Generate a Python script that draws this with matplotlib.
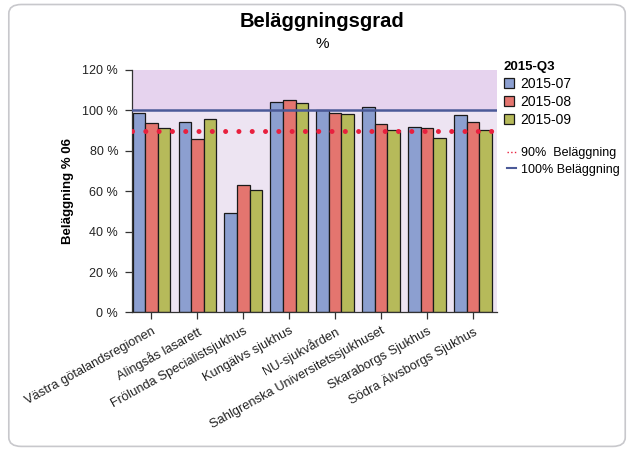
import numpy as np
import matplotlib
matplotlib.use('Agg')
import matplotlib.pyplot as plt
from matplotlib.patches import Patch, FancyBboxPatch
from matplotlib.lines import Line2D

plt.rcParams['font.family'] = ['Liberation Sans', 'DejaVu Sans']

hospitals = [
    'Västra götalandsregionen',
    'Alingsås lasarett',
    'Frölunda Specialistsjukhus',
    'Kungälvs sjukhus',
    'NU-sjukvården',
    'Sahlgrenska Universitetssjukhuset',
    'Skaraborgs Sjukhus',
    'Södra Älvsborgs Sjukhus',
]
months = ['2015-07', '2015-08', '2015-09']
jul = [98.7, 94.1, 49.3, 104.1, 100.3, 101.6, 91.8, 97.5]
aug = [93.9, 86.0, 63.0, 105.3, 98.9, 93.1, 91.4, 94.2]
sep = [91.3, 95.9, 60.8, 103.6, 98.4, 90.5, 86.5, 90.5]
target_90 = 90
target_100 = 100
y_ticks = [0, 20, 40, 60, 80, 100, 120]

COLORS = ['#8c9fd0', '#e4756f', '#b6ba5a']
RED_DOT = '#e8203e'
BLUE_LINE = '#4b5a98'

fig = plt.figure(figsize=(6.29, 4.5), dpi=100)
ax = fig.add_axes([0.21, 0.3056, 0.58, 0.539])

# rounded frame around the whole chart
frame = FancyBboxPatch((0.014, 0.008), 0.98, 0.982, transform=fig.transFigure,
                       boxstyle='round,pad=0,rounding_size=0.02',
                       facecolor='none', edgecolor='#c8c8cc', linewidth=1.2)
fig.patches.append(frame)

ax.set_facecolor('#ede4f2')
ax.axhspan(100, 120, color='#e6d3ee', zorder=0)

x = np.arange(len(hospitals))
w = 0.273
for i, (vals, c) in enumerate(zip([jul, aug, sep], COLORS)):
    ax.bar(x + (i - 1) * w, vals, width=w, color=c, edgecolor='#1a1a1a',
           linewidth=0.9, zorder=2)

ax.axhline(target_100, color=BLUE_LINE, linewidth=1.8, zorder=3)
ax.axhline(target_90, color=RED_DOT, linewidth=3.6, linestyle=(0, (0.01, 2.65)),
           dash_capstyle='round', zorder=4)

ax.set_xlim(-0.42, 7.52)
ax.set_ylim(0, 120)
ax.set_yticks(y_ticks)
ax.set_yticklabels([f'{v} %' for v in y_ticks], fontsize=9, color='#222222')
ax.set_xticks(x)
ax.set_xticklabels(hospitals, rotation=29, ha='right', rotation_mode='anchor',
                   fontsize=9.3, color='#222222')
ax.tick_params(axis='both', direction='out', length=5, width=0.9, color='#333333')
ax.tick_params(axis='x', pad=4)
ax.tick_params(axis='y', pad=5)
for s in ['top', 'right']:
    ax.spines[s].set_visible(False)
for s in ['left', 'bottom']:
    ax.spines[s].set_color('#333333')
    ax.spines[s].set_linewidth(0.9)

ax.set_ylabel('Beläggning % 06', fontsize=9.5, fontweight='bold', labelpad=6)

fig.text(0.512, 0.952, 'Beläggningsgrad', ha='center', va='center',
         fontsize=14.5, fontweight='bold')
fig.text(0.512, 0.902, '%', ha='center', va='center', fontsize=11)

handles = [Patch(facecolor=c, edgecolor='#1a1a1a', linewidth=0.9) for c in COLORS]
leg = fig.legend(handles, months, loc='upper left', bbox_to_anchor=(0.801, 0.865),
                 title='2015-Q3', frameon=False, fontsize=10, alignment='left',
                 handlelength=0.75, handleheight=0.75, handletextpad=0.45,
                 labelspacing=0.3, borderaxespad=0, borderpad=0)
leg.get_title().set_fontweight('bold')
leg.get_title().set_fontsize(9.5)

line_handles = [Line2D([], [], color=RED_DOT, linewidth=1.0, linestyle=':'),
                Line2D([], [], color=BLUE_LINE, linewidth=1.5)]
fig.legend(line_handles, ['90%  Beläggning', '100% Beläggning'], loc='upper left',
           bbox_to_anchor=(0.806, 0.673), frameon=False, fontsize=9,
           handlelength=0.75, handletextpad=0.4, labelspacing=0.35,
           borderaxespad=0, borderpad=0)

fig.savefig('out.png', dpi=100)
